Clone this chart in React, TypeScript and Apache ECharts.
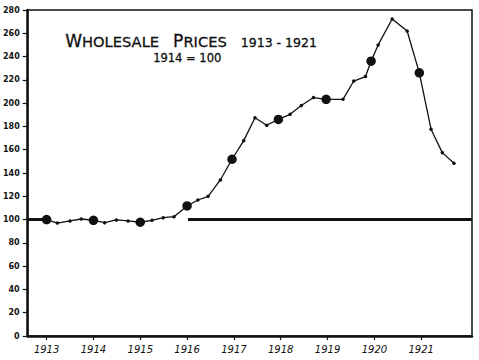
import React, { useEffect, useRef } from "react";
import * as echarts from "echarts";

// Tick labels
const yearTicks = [1913, 1914, 1915, 1916, 1917, 1918, 1919, 1920, 1921];

// Quarterly wholesale price index (1914 = 100)
const times = [
  1913.0, 1913.23, 1913.5, 1913.74, 1914.0, 1914.24, 1914.49, 1914.74,
  1915.0, 1915.25, 1915.49, 1915.72, 1916.0, 1916.23, 1916.45, 1916.71,
  1916.96, 1917.21, 1917.45, 1917.7, 1917.95, 1918.2, 1918.44, 1918.7,
  1918.97, 1919.33, 1919.56, 1919.81, 1919.93, 1920.08, 1920.38, 1920.7,
  1920.96, 1921.21, 1921.45, 1921.7,
];
const prices = [
  100, 97, 98.8, 100.5, 99.4, 97.3, 99.7, 98.8,
  97.7, 99.4, 101.6, 102.5, 111.7, 116.8, 120, 134,
  151.8, 167.8, 187.5, 181, 186, 190.4, 198, 204.8,
  203.3, 203.3, 219, 222.8, 236, 250, 272.3, 262,
  226, 177.6, 157.5, 148.3,
];

// Annual averages (large dots)
const annualTimes = [1913.0, 1914.0, 1915.0, 1916.0, 1916.96, 1917.95, 1918.97, 1919.93, 1920.96];
const annualPrices = [100, 99.4, 97.7, 111.7, 151.8, 186, 203.3, 236, 226];

// Base line (1914 = 100)
const baseValue = 100;
const xMin = 1912.596;
const xMax = 1922.085;
const baseSegments = [
  [xMin, 1913.0],
  [1916.02, xMax],
];

export default function App() {
  const ref = useRef<HTMLDivElement>(null);

  useEffect(() => {
    if (!ref.current) return;
    const chart = echarts.init(ref.current, undefined, { renderer: "svg" });
    const ink = "#111";

    const baseSeries = baseSegments.map((seg) => ({
      type: "line",
      data: seg.map((x) => [x, baseValue]),
      symbol: "none",
      lineStyle: { color: ink, width: 3 },
      silent: true,
      z: 1,
    }));

    const ff = "DejaVu Sans";
    const thick = { stroke: ink, lineWidth: 0.3 };

    chart.setOption({
      animation: false,
      backgroundColor: "#fff",
      grid: {
        left: 26,
        right: 7,
        top: 10,
        bottom: 24,
        show: true,
        borderColor: ink,
        borderWidth: 1.5,
        backgroundColor: "transparent",
      },
      xAxis: {
        type: "value",
        min: xMin,
        max: xMax,
        splitLine: { show: false },
        axisLine: { show: true, lineStyle: { color: ink, width: 2.5 } },
        axisTick: { show: true, customValues: yearTicks, length: 4, lineStyle: { color: ink, width: 1.2 } },
        axisLabel: {
          customValues: yearTicks,
          formatter: (v: number) => String(Math.round(v)),
          color: ink,
          fontSize: 10,
          fontStyle: "italic",
          fontFamily: ff,
          margin: 8,
        },
      },
      yAxis: {
        type: "value",
        min: 0,
        max: 280,
        interval: 20,
        splitLine: { show: false },
        axisLine: { show: true, lineStyle: { color: ink, width: 2.5 } },
        axisTick: { show: true, length: 5, lineStyle: { color: ink, width: 1.2 } },
        axisLabel: {
          color: ink,
          fontSize: 8,
          fontWeight: "bold",
          fontFamily: ff,
          margin: 8,
        },
      },
      graphic: [
        {
          type: "text",
          left: 65,
          top: 32,
          style: {
            text: "{b|W}{s|HOLESALE}{p|P}{s|RICES}{n|1913 - 1921}",
            fill: ink,
            rich: {
              b: { fontSize: 17, fontFamily: ff, fill: ink, verticalAlign: "bottom", ...thick },
              p: {
                fontSize: 17,
                fontFamily: ff,
                fill: ink,
                verticalAlign: "bottom",
                padding: [0, 0, 0, 14],
                ...thick,
              },
              s: { fontSize: 14.7, fontFamily: ff, fill: ink, verticalAlign: "bottom", ...thick },
              n: {
                fontSize: 12.5,
                fontFamily: ff,
                fill: ink,
                verticalAlign: "bottom",
                padding: [0, 0, 0, 14],
                ...thick,
              },
            },
          },
        },
        {
          type: "text",
          left: 153,
          top: 52,
          style: {
            text: "1914 = 100",
            fill: ink,
            font: "11.5px 'DejaVu Sans'",
            stroke: ink,
            lineWidth: 0.3,
          },
        },
      ],
      series: [
        ...baseSeries,
        {
          type: "line",
          data: times.map((t, i) => [t, prices[i]]),
          symbol: "circle",
          symbolSize: 3.5,
          itemStyle: { color: ink },
          lineStyle: { color: ink, width: 1.3 },
          z: 2,
        },
        {
          type: "scatter",
          data: annualTimes.map((t, i) => [t, annualPrices[i]]),
          symbol: "circle",
          symbolSize: 9.5,
          itemStyle: { color: ink, opacity: 1 },
          z: 3,
        },
      ],
    });

    return () => chart.dispose();
  }, []);

  return (
    <div
      ref={ref}
      style={{ position: "fixed", left: 0, top: 0, width: 479, height: 360, background: "#fff" }}
    />
  );
}
